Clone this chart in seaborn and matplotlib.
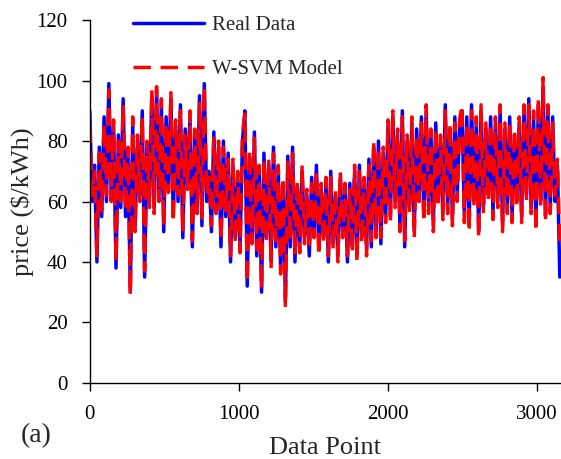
import numpy as np
import pandas as pd
import matplotlib
matplotlib.use('Agg')
import matplotlib.pyplot as plt
import seaborn as sns

# -------------------- DATA (every 16th data point) --------------------
STEP = 16

real_price = [
    90, 60, 72, 40, 78, 55,
    88, 60, 99, 62, 85, 38, 82, 58, 94, 55, 76, 30, 86,
    52, 80, 62, 90, 35, 78, 60, 95, 58, 97, 62, 92,
    50, 88, 65, 94, 55, 85, 60, 92, 48, 84, 66, 88, 45, 82, 58, 95, 52, 99, 60,
    70, 50, 83, 58, 78, 45, 80, 55, 76, 40, 72, 48,
    68, 45, 80, 90, 32, 75, 48,
    83, 42, 70, 30, 76, 48, 72, 40, 78, 45, 70, 38,
    66, 27, 75, 45, 78, 40,
    65, 45, 70, 48, 62, 42, 68, 50, 72, 44, 64, 48, 66, 40, 70, 46,
    62, 42, 68, 50, 64, 40, 66, 45, 70, 42, 72, 48, 66, 44, 74, 45,
    78, 50, 80, 46, 76, 55,
    85, 55, 88, 60, 82, 52, 90, 45, 80, 58, 86, 50, 84, 62, 88, 55,
    90, 58, 82, 52, 86, 60, 80, 56, 92, 58, 84, 54, 88, 62, 85,
    90, 55, 88, 52, 92, 60, 86, 50, 90, 58, 84, 62, 88,
    56, 86, 60, 90, 52, 84, 58, 88, 55, 82, 60, 86,
    55, 90, 62, 94, 58, 88, 52, 92, 60, 98, 55, 90, 58,
    88, 60, 72, 35,
]

wsvm_price = [
    85, 62, 70, 42, 76, 57,
    86, 62, 97, 60, 87, 40, 80, 60, 92, 57, 78, 29, 88,
    50, 82, 60, 88, 37, 80, 58, 97, 56, 98, 60, 94,
    52, 86, 63, 96, 53, 87, 62, 90, 50, 82, 64, 90, 47, 84, 56, 93, 54, 98, 62,
    68, 52, 81, 56, 80, 47, 78, 57, 74, 42, 74, 46,
    70, 43, 82, 89, 33, 77, 46,
    81, 44, 72, 31, 74, 46, 74, 38, 76, 47, 72, 36,
    68, 25, 73, 47, 76, 42,
    67, 43, 72, 46, 64, 44, 66, 48, 70, 42, 66, 46, 68, 42, 68, 44,
    64, 40, 70, 48, 66, 42, 64, 43, 72, 40, 70, 46, 68, 42, 72, 47,
    80, 48, 78, 48, 78, 53,
    87, 53, 90, 58, 84, 50, 88, 47, 82, 56, 88, 48, 82, 60, 86, 53,
    92, 56, 84, 50, 84, 58, 82, 54, 90, 56, 86, 52, 86, 60, 87,
    92, 53, 86, 50, 90, 58, 88, 48, 92, 56, 86, 60, 86,
    54, 88, 58, 92, 50, 86, 56, 86, 53, 84, 58, 88,
    53, 92, 60, 92, 56, 90, 50, 94, 58, 101, 53, 92, 56,
    86, 62, 74, 45,
]

data_point = np.arange(len(real_price)) * STEP
df = pd.DataFrame({'point': data_point, 'real': real_price, 'wsvm': wsvm_price})

# -------------------- PLOT --------------------
sns.set_style('ticks')
plt.rcParams['font.family'] = ['Liberation Serif', 'DejaVu Serif']

fig = plt.figure(figsize=(5.61, 4.59), dpi=100)
ax = fig.add_axes([0.160, 0.166, 0.840, 0.790])

sns.lineplot(data=df, x='point', y='real', ax=ax, color='#0000FF',
             linewidth=2.5, label='Real Data')
sns.lineplot(data=df, x='point', y='wsvm', ax=ax, color='#FF0000',
             linewidth=2.5, linestyle=(0, (5, 2.8)), label='W-SVM Model')

ax.set_xlim(0, 3160)
ax.set_ylim(0, 120)
ax.set_xticks([0, 1000, 2000, 3000])
ax.set_yticks(range(0, 121, 20))
ax.tick_params(axis='both', direction='out', length=6, width=1,
               labelsize=15, colors='black', pad=10)
sns.despine(ax=ax)
for side in ['left', 'bottom']:
    ax.spines[side].set_color('black')
    ax.spines[side].set_linewidth(1)

ax.set_xlabel('Data Point', fontsize=19, labelpad=9)
ax.set_ylabel('price ($/kWh)', fontsize=19, labelpad=2)

ax.legend(loc='upper left', bbox_to_anchor=(0.075, 1.035), frameon=False,
          fontsize=15, handlelength=3.4, handletextpad=0.35,
          labelspacing=1.15, borderaxespad=0)

fig.text(0.064, 0.052, '(a)', fontsize=20, ha='center', va='center')

fig.savefig('out.png', dpi=100)
plt.close(fig)
